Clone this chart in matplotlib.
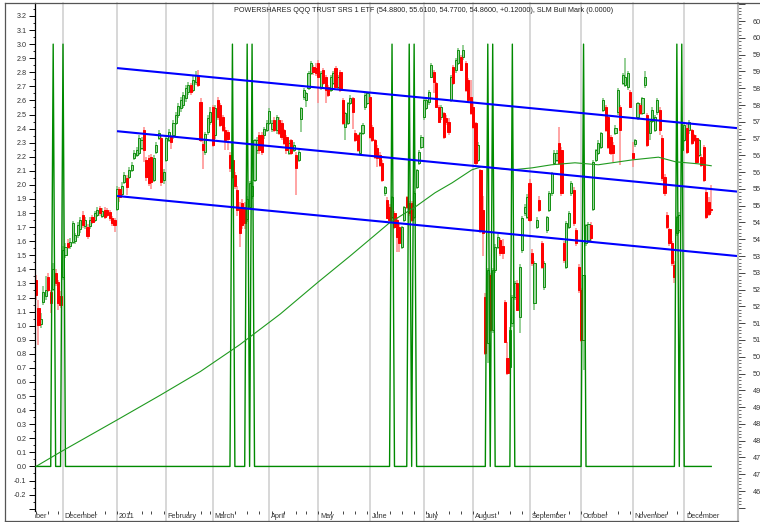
import numpy as np
import pandas as pd
import matplotlib
matplotlib.use('Agg')
import matplotlib.pyplot as plt
from matplotlib.lines import Line2D
from matplotlib.transforms import Bbox, TransformedBbox, blended_transform_factory
import matplotlib.ticker as mticker

plt.rcParams['font.family'] = ['Liberation Sans', 'DejaVu Sans']

# ---------------- data ----------------
holidays = ['2010-11-25', '2010-12-24', '2011-01-17', '2011-02-21', '2011-04-22',
            '2011-05-30', '2011-07-04', '2011-09-05', '2011-11-24']
dates = pd.bdate_range('2010-11-15', '2011-12-16', freq='C', holidays=holidays)

opens = [
    52.78, 51.95, 51.47, 52.13, 52.30, 52.87, 52.43, 52.52, 53.00, 52.72, 52.30,
    52.87, 53.53, 53.90, 53.80, 53.92, 53.95, 54.13, 54.30, 54.72, 54.39, 54.36, 54.39, 54.66, 54.57, 54.72, 54.93, 54.70, 54.87, 54.87, 54.81, 54.63, 54.57,
    54.90, 55.50, 55.35, 55.70, 55.82, 55.85, 56.06, 56.42, 56.51, 56.57, 56.73, 57.25, 56.36, 56.42, 56.45, 55.76, 56.60, 57.01, 57.01, 55.76,
    56.36, 56.95, 57.04, 57.10, 57.46, 57.70, 57.90, 58.00, 58.20, 58.40, 58.60, 58.45, 58.70, 58.89, 58.10, 56.85, 56.60, 57.20, 57.50,
    57.94, 57.10, 58.15, 58.00, 57.64, 57.25, 57.20, 56.50, 56.36, 55.90, 55.47, 54.96, 55.08, 54.96, 54.60, 54.96, 55.30, 55.76, 56.66, 57.10, 57.10, 57.10, 57.25,
    57.46, 57.30, 57.55, 57.25, 57.55, 57.46, 57.25, 57.04, 56.57, 56.95, 56.66, 56.51, 56.36, 57.58, 58.24, 58.15, 58.50, 58.95, 59.13, 59.10,
    59.25, 58.53, 59.04, 58.83, 58.53, 58.44, 58.65, 59.10, 58.53, 58.98, 58.15, 57.34, 57.46, 58.06, 58.21, 57.16, 57.10, 56.57, 57.16, 57.94, 58.06,
    58.24, 57.34, 56.95, 56.72, 56.51, 56.27, 55.38, 55.17, 54.96, 54.66, 54.78, 54.57, 54.36, 53.77, 54.57, 55.26, 55.08, 55.08, 54.66, 55.56, 56.27, 56.75,
    57.64, 57.91, 58.09, 58.83, 58.98, 58.65, 57.94, 57.64, 57.76, 57.61, 57.50, 58.15, 59.13, 59.04, 59.25, 59.43, 59.43, 59.25, 58.74, 58.24,
    57.94, 57.46, 56.36, 56.06, 54.87, 52.28, 50.91, 52.93, 51.30, 53.08, 53.77, 53.98, 53.80, 52.13, 50.46, 50.19, 51.50, 52.28, 52.70, 51.68, 53.68, 54.78, 54.66,
    55.67, 53.59, 52.10, 54.36, 55.17, 53.89, 52.58, 54.27, 54.87, 55.38, 56.27, 56.36, 56.87, 56.66, 53.89, 53.17, 54.36, 55.38, 55.47, 54.27, 53.17,
    52.49, 51.00, 53.90, 53.98, 54.42, 54.90, 56.36, 56.57, 56.75, 57.85, 57.94, 57.64, 57.04, 56.81, 57.16, 57.79, 57.94, 58.65, 58.60, 58.53, 58.38,
    56.57, 56.85, 57.64, 58.00, 57.76, 58.59, 57.70, 57.16, 57.52, 57.25, 57.79, 57.85, 57.01, 55.85, 54.72, 54.30, 53.89, 53.23, 54.18, 54.27, 56.66,
    56.95, 57.31, 57.25, 57.25, 57.10, 57.01, 56.51, 56.45, 56.75, 55.41, 55.10, 54.88,
]
highs = [
    52.93, 52.19, 51.80, 52.60, 52.90, 53.00, 52.50, 53.30, 53.10, 52.80, 52.45,
    53.80, 53.90, 54.00, 54.05, 54.55, 54.20, 54.50, 54.65, 54.85, 54.65, 54.45, 54.65, 54.72, 54.85, 54.95, 55.00, 54.92, 54.95, 54.93, 54.87, 54.70, 54.62,
    55.60, 55.55, 55.70, 56.00, 55.90, 56.15, 56.30, 56.65, 56.75, 57.10, 57.05, 57.35, 56.45, 56.50, 56.55, 56.50, 56.90, 57.25, 57.10, 56.10,
    57.05, 57.30, 57.10, 57.55, 57.80, 58.05, 58.25, 58.40, 58.60, 58.70, 58.65, 58.85, 59.00, 59.05, 58.20, 56.95, 57.20, 57.70, 57.95,
    58.00, 58.00, 58.25, 58.05, 57.70, 57.35, 57.25, 56.60, 56.45, 56.00, 55.60, 55.10, 55.20, 55.10, 55.30, 55.75, 55.70, 57.00, 57.05, 57.20, 57.20, 57.35, 57.55,
    57.90, 57.55, 57.65, 57.70, 57.65, 57.55, 57.30, 57.10, 56.95, 57.00, 56.90, 56.60, 56.65, 57.95, 58.50, 58.40, 59.00, 59.30, 59.20, 59.25,
    59.35, 59.00, 59.10, 58.90, 58.60, 58.90, 59.00, 59.15, 58.90, 59.05, 58.20, 57.80, 58.10, 58.30, 58.25, 57.25, 57.15, 57.20, 57.45, 58.35, 58.40,
    58.30, 57.40, 57.00, 56.80, 56.60, 56.35, 55.60, 55.25, 55.05, 55.30, 54.85, 54.65, 54.45, 54.40, 55.00, 55.30, 55.15, 55.15, 55.45, 56.10, 56.65, 57.10,
    58.20, 58.20, 58.45, 59.25, 59.05, 58.70, 58.00, 58.00, 57.80, 57.70, 57.60, 58.90, 59.20, 59.40, 59.70, 59.50, 59.78, 59.30, 58.80, 58.75,
    58.05, 57.50, 56.90, 56.10, 55.30, 52.40, 53.15, 53.00, 53.15, 53.85, 54.15, 54.05, 54.00, 52.20, 50.95, 51.40, 52.35, 52.75, 52.80, 53.25, 54.70, 55.05, 55.35,
    55.80, 53.70, 53.35, 54.65, 55.30, 53.95, 53.35, 54.70, 55.45, 56.00, 56.65, 56.65, 57.34, 56.75, 53.95, 54.55, 54.85, 55.75, 55.55, 54.35, 53.25,
    52.55, 52.95, 54.45, 54.50, 54.50, 56.35, 56.70, 56.95, 57.20, 58.20, 58.00, 57.70, 57.10, 56.90, 57.40, 58.50, 58.00, 58.95, 59.40, 59.00, 58.45,
    56.90, 57.00, 58.10, 58.05, 58.25, 59.00, 57.75, 57.55, 57.95, 57.70, 58.20, 57.95, 57.10, 55.95, 54.80, 54.35, 53.95, 53.35, 54.70, 54.80, 57.10,
    57.45, 57.45, 57.55, 57.30, 57.15, 57.10, 57.00, 56.55, 56.80, 55.50, 55.25, 55.61,
]
lows = [
    52.19, 50.85, 51.35, 52.05, 52.19, 52.43, 51.80, 52.45, 52.60, 51.90, 51.95,
    52.80, 53.45, 53.70, 53.70, 53.85, 53.85, 54.05, 54.20, 54.35, 54.30, 54.00, 54.30, 54.45, 54.50, 54.65, 54.70, 54.62, 54.60, 54.65, 54.55, 54.40, 54.21,
    54.85, 55.10, 55.25, 55.65, 55.32, 55.80, 56.00, 56.35, 56.45, 56.50, 56.65, 56.30, 55.75, 55.60, 55.50, 55.70, 56.55, 56.95, 55.60, 55.65,
    56.30, 56.90, 56.70, 57.00, 57.40, 57.60, 57.80, 57.90, 58.10, 58.30, 58.30, 58.40, 58.60, 58.55, 56.90, 56.10, 56.50, 57.10, 57.40,
    56.75, 57.00, 57.55, 57.35, 57.20, 56.66, 56.66, 56.00, 55.80, 55.50, 54.70, 53.77, 54.30, 54.30, 54.50, 54.90, 55.20, 55.70, 56.55, 56.55, 56.50, 57.00, 57.20,
    57.40, 57.20, 57.20, 57.15, 57.10, 56.95, 56.80, 56.55, 56.50, 56.50, 56.60, 55.32, 56.30, 57.20, 58.15, 57.95, 58.45, 58.90, 58.90, 58.85,
    58.05, 58.45, 58.60, 58.05, 58.25, 58.40, 58.60, 58.50, 58.45, 58.40, 57.40, 56.95, 57.40, 58.00, 57.30, 56.90, 56.60, 56.50, 57.10, 57.85, 58.00,
    57.00, 56.90, 56.40, 56.15, 56.15, 55.70, 55.30, 54.60, 54.50, 54.60, 54.30, 53.62, 53.62, 53.70, 54.50, 54.90, 54.70, 54.50, 54.60, 55.50, 56.20, 56.70,
    57.55, 57.85, 58.00, 58.80, 58.35, 57.90, 57.45, 57.55, 57.00, 57.40, 57.10, 58.10, 58.60, 58.95, 59.20, 59.00, 59.35, 58.40, 58.10, 57.70,
    57.30, 56.20, 56.30, 54.20, 53.50, 50.55, 50.30, 51.25, 51.20, 53.00, 53.70, 53.50, 53.40, 50.90, 49.95, 50.05, 51.40, 52.20, 51.85, 51.20, 53.60, 54.70, 54.60,
    54.50, 53.20, 51.90, 54.30, 54.80, 53.10, 52.50, 54.20, 54.80, 55.30, 56.20, 56.30, 56.20, 55.30, 53.30, 53.10, 54.30, 55.30, 54.40, 53.80, 52.40,
    50.95, 50.10, 53.80, 53.90, 53.95, 54.85, 56.30, 56.50, 56.70, 57.80, 57.20, 56.70, 56.50, 56.30, 57.10, 57.70, 56.20, 58.60, 58.55, 58.45, 57.90,
    56.15, 56.75, 57.55, 57.70, 57.70, 58.50, 56.75, 56.95, 57.45, 57.20, 57.70, 57.10, 55.75, 55.30, 54.30, 53.80, 53.20, 52.70, 54.10, 54.20, 56.60,
    56.90, 56.55, 57.15, 56.80, 56.90, 56.25, 56.45, 56.15, 55.70, 54.60, 54.70, 54.77,
]
closes = [
    52.34, 51.44, 51.62, 52.43, 52.49, 52.49, 52.10, 53.10, 52.70, 52.10, 52.05,
    53.68, 53.77, 53.77, 53.92, 54.48, 54.13, 54.42, 54.57, 54.42, 54.57, 54.10, 54.57, 54.51, 54.78, 54.87, 54.78, 54.84, 54.66, 54.72, 54.63, 54.48, 54.42,
    55.50, 55.26, 55.60, 55.90, 55.55, 56.06, 56.21, 56.57, 56.66, 57.01, 56.95, 56.66, 55.85, 55.67, 55.70, 56.42, 56.81, 57.16, 55.70, 56.00,
    57.01, 57.20, 56.90, 57.46, 57.70, 57.97, 58.15, 58.30, 58.50, 58.60, 58.40, 58.75, 58.90, 58.60, 56.95, 56.66, 57.15, 57.60, 57.80,
    56.81, 57.90, 57.64, 57.40, 57.25, 56.95, 57.00, 56.12, 55.85, 55.60, 54.87, 54.18, 54.42, 54.48, 55.20, 55.68, 55.60, 56.95, 56.95, 56.66, 56.60, 57.28, 57.46,
    57.82, 57.46, 57.25, 57.64, 57.16, 57.04, 56.87, 56.66, 56.87, 56.57, 56.81, 56.12, 56.60, 57.91, 58.44, 58.35, 58.95, 59.25, 58.98, 58.95,
    58.83, 58.95, 58.65, 58.44, 58.30, 58.83, 58.95, 58.53, 58.83, 58.44, 57.46, 57.76, 58.06, 58.21, 57.79, 56.95, 56.66, 57.16, 57.40, 58.30, 58.35,
    57.04, 56.95, 56.45, 56.42, 56.21, 55.76, 55.56, 54.63, 54.57, 55.26, 54.36, 54.07, 53.89, 54.36, 54.96, 54.96, 54.78, 54.57, 55.38, 56.06, 56.60, 57.04,
    58.15, 58.15, 58.38, 59.19, 58.68, 57.94, 57.49, 57.94, 57.04, 57.49, 57.20, 58.83, 58.65, 59.34, 59.64, 59.04, 59.64, 58.44, 58.15, 57.76,
    57.34, 56.27, 56.81, 54.27, 54.18, 50.61, 53.08, 51.30, 53.08, 53.77, 54.07, 53.59, 53.60, 50.94, 50.01, 51.30, 52.28, 52.70, 51.89, 53.17, 54.63, 54.96, 55.26,
    54.57, 53.29, 53.29, 54.57, 54.87, 53.17, 53.29, 54.66, 55.38, 55.97, 56.57, 56.57, 56.27, 55.38, 53.38, 54.48, 54.78, 55.67, 54.48, 53.89, 52.49,
    51.00, 52.93, 54.42, 54.45, 54.03, 56.30, 56.66, 56.87, 57.16, 58.15, 57.25, 56.75, 56.57, 56.57, 57.31, 58.44, 57.25, 58.89, 58.83, 58.95, 57.94,
    56.42, 56.95, 58.06, 57.76, 58.21, 58.83, 56.81, 57.52, 57.85, 57.64, 58.15, 57.25, 55.82, 55.38, 54.36, 53.90, 53.29, 52.87, 54.66, 54.72, 57.04,
    57.40, 56.60, 57.49, 56.87, 56.95, 56.30, 56.95, 56.21, 55.76, 54.66, 54.74, 54.86,
]

# SLM Bull Mark: days on which the mark fires (value 3), 0 otherwise
bull_mark_dates = ['2010-11-24', '2010-12-01', '2011-03-11', '2011-03-21', '2011-03-23',
                   '2011-06-14', '2011-06-23', '2011-06-27', '2011-08-09', '2011-08-11',
                   '2011-08-23', '2011-10-04', '2011-11-28', '2011-11-30']
bull_mark_level = 3.0

# long moving average (left scale), sampled along its path (trading-day number, value)
ma_day = [0, 10, 33, 50.5, 67, 83, 99.5, 115, 128, 144, 154.5, 162.5, 169.5, 177.5, 181.5,
          194, 202, 210, 219.5, 229, 243, 253.5, 260.5, 269.5, 275]
ma_val = [0.0, 0.103, 0.33, 0.505, 0.675, 0.865, 1.083, 1.311, 1.496, 1.731, 1.844, 1.944,
          2.015, 2.107, 2.129, 2.107, 2.121, 2.143, 2.157, 2.143, 2.178, 2.197, 2.164, 2.150, 2.136]

# price channel (trading-day number, price)
channel_day = [33, 285.7]
channel_upper = [59.10, 57.31]
channel_middle = [57.22, 55.42]
channel_lower = [55.29, 53.50]

month_starts = ['2010-11-01', '2010-12-01', '2011-01-03', '2011-02-01', '2011-03-01', '2011-04-01',
                '2011-05-02', '2011-06-01', '2011-07-01', '2011-08-01', '2011-09-01', '2011-10-03',
                '2011-11-01', '2011-12-01']
month_labels = ['November', 'December', '2011', 'February', 'March', 'April', 'May', 'June',
                'July', 'August', 'September', 'October', 'November', 'December']

title = ('POWERSHARES QQQ TRUST SRS 1 ETF (54.8800, 55.6100, 54.7700, 54.8600, +0.12000), '
         'SLM Bull Mark (0.0000)')

assert len(dates) == len(opens) == len(highs) == len(lows) == len(closes), (
    len(dates), len(opens), len(highs), len(lows), len(closes))

# ---------------- figure ----------------
W, H = 760, 522
fig = plt.figure(figsize=(W / 100, H / 100), dpi=100)
ax_l, ax_r, ax_b, ax_t = 34.5 / W, 737.5 / W, 1 - 510.5 / H, 1 - 3.3 / H
ax_p = fig.add_axes([ax_l, ax_b, ax_r - ax_l, ax_t - ax_b])
ax_i = ax_p.twinx()
ax_c = ax_p.twinx()

x = np.arange(len(dates))
o = np.array(opens); h = np.array(highs); lo = np.array(lows); c = np.array(closes)
up = c >= o

xmin, xmax = -0.61, 285.7
for a in (ax_p, ax_i, ax_c):
    a.set_xlim(xmin, xmax)
ax_p.set_ylim(45.92, 61.03)
ax_c.set_ylim(45.92, 61.03)
ax_i.set_ylim(-0.313, 3.29)

# month grid lines (extend into label band)
hol = np.array(holidays, dtype='datetime64[D]')
start = np.datetime64(dates[0].date())
mpos = [np.busday_count(start, np.datetime64(m), holidays=hol) for m in month_starts]
blend = blended_transform_factory(ax_p.transData, fig.transFigure)
for p in mpos:
    if xmin < p < xmax:
        ax_p.add_line(Line2D([p, p], [1 - 520.5 / H, ax_t], transform=blend, color='#cdcdcd',
                             lw=1.1, clip_on=False, zorder=0.5))
clipbox = TransformedBbox(Bbox([[ax_l, 0], [ax_r, 1]]), fig.transFigure)
for p, lab in zip(mpos, month_labels):
    t = ax_p.text(p + 0.7, 1 - 516.5 / H, lab, transform=blend, fontsize=5.2, color='#333333',
                  ha='left', va='center', clip_on=True)
    t.set_clip_box(clipbox)

# weekly minor marks in label band
wk = pd.Series(x, index=dates)
wk_first = wk.groupby(dates.to_period('W')).first().values
ax_p.set_xticks(wk_first, minor=True)
ax_p.set_xticks([])
ax_p.tick_params(axis='x', which='minor', direction='out', length=2.2, width=0.7,
                 color='#444444', labelbottom=False)

# candles
wick_col = np.where(up, '#79c279', '#ff8c8c')
ax_p.vlines(x, lo, h, colors=list(wick_col), linewidth=1.1, zorder=2)
body_b = np.minimum(o, c)
body_h = np.maximum(np.abs(c - o), 0.03)
ax_p.bar(x[up], body_h[up], bottom=body_b[up], width=0.88, color='#9ad49a',
         edgecolor='#118f11', linewidth=0.7, zorder=3)
ax_p.bar(x[~up], body_h[~up], bottom=body_b[~up], width=0.88, color='#ff0000',
         edgecolor='#ff0000', linewidth=0.7, zorder=3)

# indicator
bull = np.where(dates.isin(pd.to_datetime(bull_mark_dates)), bull_mark_level, 0.0)
ax_i.plot(x, bull, color='#008a00', lw=1.0, zorder=3)
ax_i.plot(ma_day, ma_val, color='#1f9a1f', lw=0.8, zorder=3)

# channel
for yv in (channel_upper, channel_middle, channel_lower):
    ax_c.plot(channel_day, yv, color='#0000ff', lw=1.5, solid_capstyle='butt', zorder=4)

# axes styling
for a in (ax_p, ax_i, ax_c):
    for s in a.spines.values():
        s.set_visible(False)
ax_i.spines['left'].set_visible(True)
ax_i.spines['left'].set_color('black')
ax_i.spines['left'].set_linewidth(0.9)

ax_i.yaxis.set_ticks_position('left')
lt = np.round(np.arange(-0.3, 3.21, 0.1), 2)
ax_i.set_yticks(lt)
ax_i.set_yticklabels(['' if v < -0.25 else f'{v:.1f}' for v in lt])
ax_i.yaxis.set_minor_locator(mticker.MultipleLocator(0.05))
ax_i.tick_params(axis='y', which='major', direction='out', length=4.3, width=0.7,
                 color='black', labelsize=5.2, labelcolor='#333333', pad=1.5)
ax_i.tick_params(axis='y', which='minor', direction='out', length=1.8, width=0.6, color='black')

ax_p.yaxis.set_ticks_position('right')
ax_p.yaxis.set_label_position('right')
pt = np.round(np.arange(46.0, 61.01, 0.5), 2)
ax_p.set_yticks(pt)
ax_p.set_yticklabels([f'{v:.2f}' if 46.4 < v < 60.6 else '' for v in pt])
ax_p.yaxis.set_minor_locator(mticker.MultipleLocator(0.1))
ax_p.tick_params(axis='y', which='major', direction='out', length=5, width=0.7,
                 color='#444444', labelsize=5.2, labelcolor='#333333', pad=5.8,
                 left=False, right=True, labelleft=False, labelright=True)
ax_p.tick_params(axis='y', which='minor', direction='out', length=1.8, width=0.6,
                 color='#555555', left=False, right=True)
ax_c.set_yticks([])
ax_c.tick_params(axis='both', length=0, labelleft=False, labelright=False)

# right axis line (extends through label band)
fig.add_artist(Line2D([ax_r + 0.6 / W, ax_r + 0.6 / W], [0, ax_t], transform=fig.transFigure,
                      color='#bcbcbc', lw=1.5))
# outer frame
fig.add_artist(Line2D([5 / W, 1], [ax_t, ax_t], transform=fig.transFigure, color='#555555', lw=0.9))
fig.add_artist(Line2D([5 / W, 5 / W], [1 - 520.5 / H, ax_t], transform=fig.transFigure,
                      color='#555555', lw=0.9))
fig.add_artist(Line2D([5 / W, 738 / W], [1 - 520.5 / H, 1 - 520.5 / H], transform=fig.transFigure,
                      color='#555555', lw=0.9))

fig.text(423.5 / W, 1 - 10.5 / H, title, fontsize=5.2, color='#222222', ha='center', va='center')

fig.savefig('out.png', dpi=100)
